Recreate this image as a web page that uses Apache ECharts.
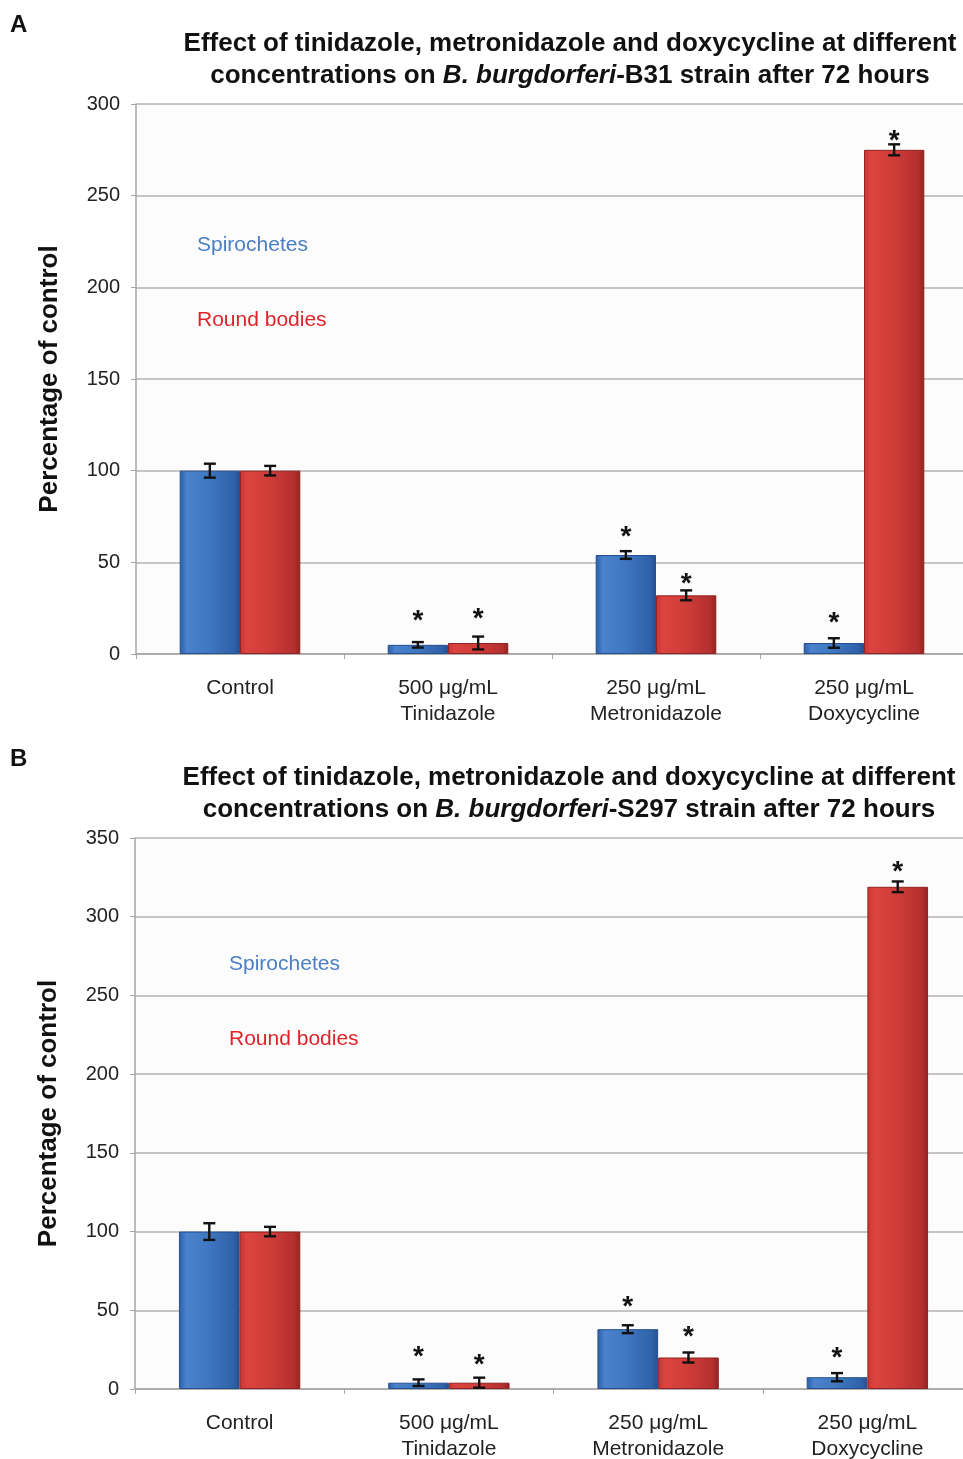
<!DOCTYPE html>
<html><head><meta charset="utf-8">
<script src="https://cdn.jsdelivr.net/npm/echarts@6/dist/echarts.min.js"></script>
<style>html,body{margin:0;padding:0;background:#fff}#c{width:963px;height:1459px}</style>
</head><body><div id="c"></div>
<script>
const categories = ['Control', '500 μg/mL\nTinidazole', '250 μg/mL\nMetronidazole', '250 μg/mL\nDoxycycline'];
// Panel A (B31)
const spiroA = [100, 5, 54, 6];
const spiroErrA = [3.8, 1.5, 2.1, 2.6];
const roundA = [100, 6, 32, 275];
const roundErrA = [2.6, 3.5, 2.7, 3];
const spiroStarA = [null, 22, 68, 21];
const roundStarA = [null, 23.5, 42.5, 284];
// Panel B (S297)
const spiroB = [100, 4, 38, 7.5];
const spiroErrB = [5.3, 2.1, 2.5, 2.6];
const roundB = [100, 4, 20, 319];
const roundErrB = [3, 3.2, 3.2, 3.4];
const spiroStarB = [null, 25, 57, 24.5];
const roundStarB = [null, 20, 38, 333.6];
const yTicksA = [0, 50, 100, 150, 200, 250, 300];
const yTicksB = [0, 50, 100, 150, 200, 250, 300, 350];
const seriesNames = ['Spirochetes', 'Round bodies'];

const FONT = 'Liberation Sans, Arial, sans-serif';
const blueGrad = {type:'linear',x:0,y:0,x2:1,y2:0,colorStops:[
  {offset:0,color:'#2c5fa6'},{offset:0.12,color:'#4a82cc'},{offset:0.5,color:'#3f76c0'},{offset:0.9,color:'#2f62a8'},{offset:1,color:'#24508e'}]};
const redGrad = {type:'linear',x:0,y:0,x2:1,y2:0,colorStops:[
  {offset:0,color:'#c83434'},{offset:0.12,color:'#dc4440'},{offset:0.5,color:'#cf3c38'},{offset:0.9,color:'#b3302e'},{offset:1,color:'#8f2422'}]};

function errSeries(gi, vals, errs, stars, sidx) {
  return {
    type:'custom', xAxisIndex:gi, yAxisIndex:gi, z:10,
    data: vals.map((v,i)=>[i, v, errs[i], stars[i]]),
    renderItem: function(params, api){
      const i = api.value(0), v = api.value(1), e = api.value(2), s = api.value(3);
      const size = api.size([1,0]);
      const bw = size[0]*0.58/2;
      const cx = api.coord([i,0])[0] + (sidx===0 ? -bw/2 : bw/2);
      const top = api.coord([i, v+e])[1], bot = api.coord([i, v-e])[1];
      const cap = 6;
      const st = {stroke:'#111', lineWidth:2.4};
      const children = [
        {type:'line', shape:{x1:cx,y1:top,x2:cx,y2:bot}, style:st},
        {type:'line', shape:{x1:cx-cap,y1:top,x2:cx+cap,y2:top}, style:st},
        {type:'line', shape:{x1:cx-cap,y1:bot,x2:cx+cap,y2:bot}, style:st}
      ];
      if (s != null && !isNaN(s)) {
        const sy = api.coord([i, s])[1];
        children.push({type:'text', style:{text:'*', x:cx, y:sy+8, align:'center', verticalAlign:'middle',
          font:'bold 28px '+FONT, fill:'#111'}});
      }
      return {type:'group', children};
    }
  };
}

function barSeries(gi, name, vals, color) {
  return {type:'bar', name, xAxisIndex:gi, yAxisIndex:gi, data: vals, barGap:'0%', barCategoryGap:'42%',
    itemStyle:{color, borderColor: name==='Spirochetes' ? '#24508e' : '#8f2422', borderWidth:1}};
}

function yAxis(gi, max) {
  return {type:'value', gridIndex:gi, min:0, max, interval:50,
    name:'Percentage of control', nameLocation:'middle', nameGap:73,
    nameTextStyle:{fontFamily:FONT, fontSize:26, fontWeight:'bold', color:'#111'},
    axisLine:{show:true, lineStyle:{color:'#a9a4a4', width:1.5}},
    axisTick:{show:true, length:5, lineStyle:{color:'#a9a4a4'}},
    axisLabel:{fontFamily:FONT, fontSize:20, color:'#222', margin:16},
    splitLine:{lineStyle:{color:'#b9b2b2', width:1.6}}};
}
function xAxis(gi) {
  return {type:'category', gridIndex:gi, data:categories,
    axisLine:{lineStyle:{color:'#a9a4a4', width:1.5}},
    axisTick:{show:true, length:5, lineStyle:{color:'#a9a4a4'}},
    axisLabel:{fontFamily:FONT, fontSize:21, color:'#222', margin:21, lineHeight:26}};
}

function titleText(strain) {
  return 'Effect of tinidazole, metronidazole and doxycycline at different\nconcentrations on {i|B. burgdorferi}-' + strain + ' strain after 72 hours';
}
const titleStyle = {fontFamily:FONT, fontSize:26, fontWeight:'bold', color:'#111', lineHeight:32,
  rich:{i:{fontFamily:FONT, fontSize:26, fontWeight:'bold', fontStyle:'italic', color:'#111', lineHeight:32}}};

const chart = echarts.init(document.getElementById('c'), null, {renderer:'canvas'});
chart.setOption({
  backgroundColor:'#fff',
  animation:false,
  title:[
    {text:titleText('B31'), left:565, top:23, textAlign:'center', textStyle:titleStyle},
    {text:titleText('S297'), left:564, top:757, textAlign:'center', textStyle:titleStyle},
    {text:'A', left:5, top:8, textStyle:{fontFamily:FONT, fontSize:24, fontWeight:'bold', color:'#111'}},
    {text:'B', left:5, top:742, textStyle:{fontFamily:FONT, fontSize:24, fontWeight:'bold', color:'#111'}}
  ],
  graphic:[
    {type:'text', left:197, top:235, style:{text:seriesNames[0], font:'21px '+FONT, fill:'#4a7fc4'}},
    {type:'text', left:197, top:310, style:{text:seriesNames[1], font:'21px '+FONT, fill:'#e2222a'}},
    {type:'text', left:229, top:954, style:{text:seriesNames[0], font:'21px '+FONT, fill:'#4a7fc4'}},
    {type:'text', left:229, top:1029, style:{text:seriesNames[1], font:'21px '+FONT, fill:'#e2222a'}}
  ],
  grid:[
    {left:136, width:832, top:104, height:550, outerBoundsMode:'none', containLabel:false, backgroundColor:'#fcfcfc', show:true, borderWidth:0},
    {left:135, width:837, top:838, height:551, outerBoundsMode:'none', containLabel:false, backgroundColor:'#fcfcfc', show:true, borderWidth:0}
  ],
  xAxis:[xAxis(0), xAxis(1)],
  yAxis:[yAxis(0,300), yAxis(1,350)],
  series:[
    barSeries(0, seriesNames[0], spiroA, blueGrad),
    barSeries(0, seriesNames[1], roundA, redGrad),
    errSeries(0, spiroA, spiroErrA, spiroStarA, 0),
    errSeries(0, roundA, roundErrA, roundStarA, 1),
    barSeries(1, seriesNames[0], spiroB, blueGrad),
    barSeries(1, seriesNames[1], roundB, redGrad),
    errSeries(1, spiroB, spiroErrB, spiroStarB, 0),
    errSeries(1, roundB, roundErrB, roundStarB, 1)
  ]
});
</script></body></html>
